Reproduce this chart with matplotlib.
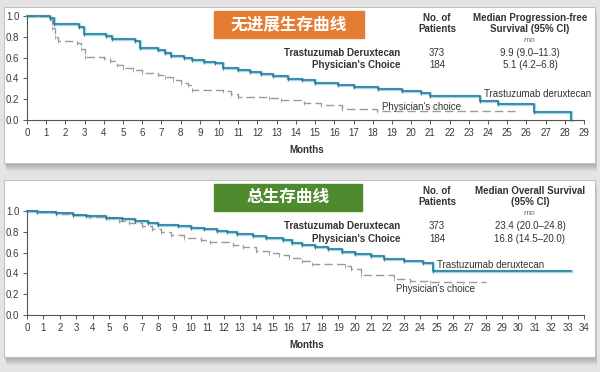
import matplotlib.pyplot as plt
from matplotlib.patches import Rectangle

plt.rcParams['font.family'] = ['Liberation Sans', 'Noto Sans CJK SC', 'DejaVu Sans']

W, H = 600, 372

# --- data: progression-free survival (top panel) ---
pfs_t_dxd_t = [0, 1.2, 1.4, 2.7, 2.95, 4.1, 4.4, 5.6, 5.9, 6.8, 7.2, 7.5, 8.2, 8.6, 9.2, 9.8,
               10.2, 11.0, 11.6, 12.2, 12.8, 13.6, 14.3, 15.0, 16.2, 17.0, 18.3, 19.5, 20.5,
               21.0, 23.6, 24.5, 26.4, 28.3]
pfs_t_dxd_s = [1.0, 0.98, 0.92, 0.89, 0.83, 0.81, 0.78, 0.76, 0.69, 0.67, 0.64, 0.62, 0.60, 0.58,
               0.56, 0.55, 0.50, 0.48, 0.46, 0.44, 0.42, 0.39, 0.38, 0.36, 0.34, 0.32, 0.30, 0.28,
               0.26, 0.23, 0.185, 0.155, 0.077, 0.0]
pfs_pc_t = [0, 1.2, 1.3, 1.45, 1.6, 2.6, 2.8, 3.0, 4.0, 4.3, 4.7, 5.0, 5.5, 6.0, 6.8, 7.2, 7.6,
            8.0, 8.4, 8.6, 10.2, 10.6, 11.0, 12.6, 13.2, 14.4, 15.3, 16.4, 18.2, 25.4]
pfs_pc_s = [1.0, 0.97, 0.88, 0.80, 0.76, 0.74, 0.68, 0.61, 0.60, 0.57, 0.53, 0.50, 0.48, 0.45,
            0.43, 0.41, 0.38, 0.36, 0.34, 0.29, 0.28, 0.25, 0.22, 0.21, 0.19, 0.16, 0.14, 0.11,
            0.09, 0.09]

# --- data: overall survival (bottom panel) ---
os_t_dxd_t = [0, 0.6, 1.8, 2.8, 3.6, 4.8, 5.8, 6.6, 7.4, 8.0, 9.2, 10.0, 10.8, 11.6, 12.2, 12.8,
              13.8, 14.6, 15.6, 16.2, 16.8, 17.6, 18.4, 19.2, 20.0, 21.0, 21.8, 23.0, 24.2, 24.8,
              33.2]
os_t_dxd_s = [1.0, 0.99, 0.978, 0.962, 0.952, 0.936, 0.925, 0.905, 0.885, 0.865, 0.855, 0.84,
              0.825, 0.81, 0.80, 0.78, 0.755, 0.74, 0.72, 0.695, 0.675, 0.655, 0.635, 0.61, 0.59,
              0.565, 0.535, 0.52, 0.50, 0.42, 0.42]
os_pc_t = [0, 0.6, 1.8, 2.8, 3.8, 5.0, 5.6, 6.2, 7.0, 7.6, 8.2, 8.8, 9.6, 10.6, 11.2, 12.6, 13.2,
           14.0, 14.8, 15.4, 16.0, 16.8, 17.4, 19.4, 19.8, 20.4, 22.4, 23.4, 24.6, 28.0]
os_pc_s = [1.0, 0.99, 0.975, 0.96, 0.945, 0.93, 0.905, 0.88, 0.855, 0.83, 0.80, 0.77, 0.745,
           0.72, 0.70, 0.67, 0.65, 0.62, 0.60, 0.575, 0.545, 0.52, 0.49, 0.47, 0.44, 0.38, 0.35,
           0.33, 0.32, 0.32]

arms = ['Trastuzumab Deruxtecan', "Physician's Choice"]
n_patients = ['373', '184']
pfs_median = ['9.9 (9.0\u201311.3)', '5.1 (4.2\u20136.8)']
os_median = ['23.4 (20.0\u201324.8)', '16.8 (14.5\u201320.0)']

BLUE = '#1f7799'
HALO = '#a6d6ea'
GREY = '#9a9a9a'
TXT = '#333333'


def fx(px):
    return px / W


def fy(py):
    return 1 - py / H


fig = plt.figure(figsize=(6, 3.72), dpi=100)
fig.patch.set_facecolor('#e4e4e4')


def panel(top, bottom):
    # soft drop shadow (stacked translucent rects) + white card, kept under the axes
    for k in range(1, 9):
        fig.patches.append(Rectangle((fx(4 + k * 0.3), fy(bottom + k)), fx(591),
                                     (bottom - top) / H, transform=fig.transFigure,
                                     color='#6a6a6a', alpha=0.07, lw=0, zorder=-3))
    fig.patches.append(Rectangle((fx(4), fy(bottom)), fx(591), (bottom - top) / H,
                                 transform=fig.transFigure, facecolor='white',
                                 edgecolor='#b8b8b8', lw=0.6, zorder=-2))


def km_axes(y_top, xmax):
    ax = fig.add_axes([fx(27), fy(y_top + 104), fx(557), 104 / H])
    ax.set_xlim(0, xmax)
    ax.set_ylim(0, 1.0)
    ax.patch.set_visible(False)
    for s in ['top', 'right']:
        ax.spines[s].set_visible(False)
    for s in ['left', 'bottom']:
        ax.spines[s].set_color('#555555')
        ax.spines[s].set_linewidth(0.8)
    ax.set_xticks(range(0, xmax + 1))
    ax.set_yticks([0, 0.2, 0.4, 0.6, 0.8, 1.0])
    ax.set_yticklabels(['0.0', '0.2', '0.4', '0.6', '0.8', '1.0'])
    ax.tick_params(direction='out', length=3, width=0.7, colors='#555555',
                   labelsize=7, labelcolor='#3a3a3a', pad=2.5)
    return ax


def curves(ax, bt, bs, gt, gs):
    ax.step(bt, bs, where='post', color=HALO, lw=2.4, clip_on=False, zorder=2)
    ax.step(bt, bs, where='post', color=BLUE, lw=1.1, clip_on=False, zorder=3)
    ax.plot(bt[1:-1], bs[1:-1], ls='none', marker='|', ms=2.5, mew=0.6, color=BLUE,
            clip_on=False, zorder=3)
    ax.step(gt, gs, where='post', color=GREY, lw=1.0, ls=(0, (6, 3)), clip_on=False,
            zorder=2)
    ax.plot(gt[1:-1], gs[1:-1], ls='none', marker='|', ms=2.5, mew=0.6, color=GREY,
            clip_on=False, zorder=2)


def table(y0, header, medians):
    fig.text(fx(437), fy(y0), 'No. of\nPatients', ha='center', va='top', fontsize=7,
             fontweight='bold', color=TXT, linespacing=1.15)
    fig.text(fx(530), fy(y0), header, ha='center', va='top', fontsize=7, fontweight='bold',
             color=TXT, linespacing=1.15)
    fig.text(fx(530), fy(y0 + 27), 'mo', ha='center', va='center', fontsize=6,
             style='italic', color='#666666')
    for i in range(2):
        yy = fy(y0 + 40 + 12.5 * i)
        fig.text(fx(400), yy, arms[i], ha='right', va='center', fontsize=7,
                 fontweight='bold', color=TXT)
        fig.text(fx(437), yy, n_patients[i], ha='center', va='center', fontsize=7, color=TXT)
        fig.text(fx(530), yy, medians[i], ha='center', va='center', fontsize=7, color=TXT)


def badge(y_top, x_right, label, color):
    fig.patches.append(Rectangle((fx(214), fy(y_top + 27)), fx(x_right - 214), 27 / H,
                                 transform=fig.transFigure, color=color, zorder=1))
    fig.text(fx((214 + x_right) / 2), fy(y_top + 13.5), label, ha='center', va='center',
             fontsize=12, color='white', fontweight='bold')


# ---------------- top: PFS ----------------
panel(7, 163)
ax1 = km_axes(16, 29)
curves(ax1, pfs_t_dxd_t, pfs_t_dxd_s, pfs_pc_t, pfs_pc_s)
ax1.text(23.8, 0.25, 'Trastuzumab deruxtecan', fontsize=7, color=TXT, va='center')
ax1.text(18.5, 0.125, "Physician's choice", fontsize=7, color=TXT, va='center')
fig.text(fx(307), fy(150), 'Months', ha='center', va='center', fontsize=7,
         fontweight='bold', color=TXT)
badge(11, 364, '无进展生存曲线', '#e47d33')
table(13, 'Median Progression-free\nSurvival (95% CI)', pfs_median)

# ---------------- bottom: OS ----------------
panel(180, 357)
ax2 = km_axes(211, 34)
curves(ax2, os_t_dxd_t, os_t_dxd_s, os_pc_t, os_pc_s)
ax2.text(25.0, 0.48, 'Trastuzumab deruxtecan', fontsize=7, color=TXT, va='center')
ax2.text(22.5, 0.25, "Physician's choice", fontsize=7, color=TXT, va='center')
fig.text(fx(307), fy(345), 'Months', ha='center', va='center', fontsize=7,
         fontweight='bold', color=TXT)
badge(184, 362, '总生存曲线', '#4f8a2f')
table(186, 'Median Overall Survival\n(95% CI)', os_median)

fig.savefig('out.png', dpi=100, facecolor=fig.get_facecolor())
